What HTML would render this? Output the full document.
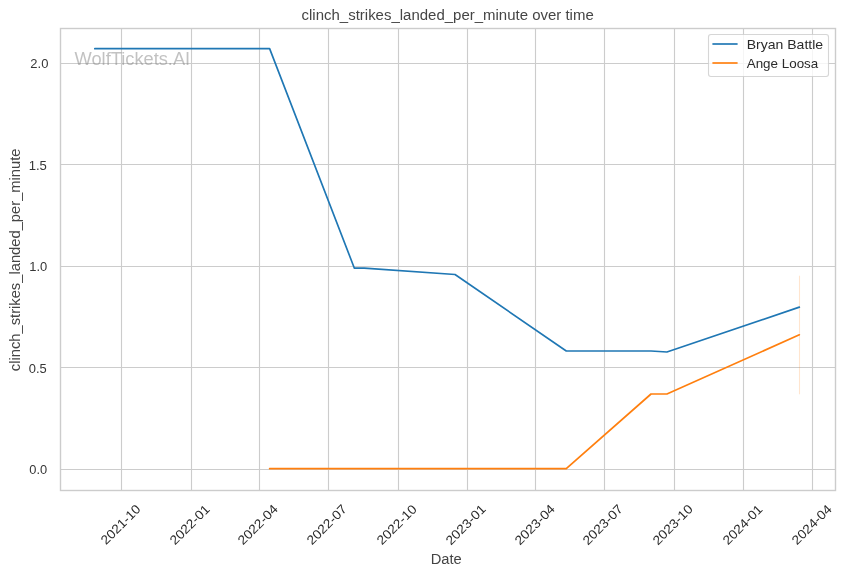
<!DOCTYPE html>
<html><head><meta charset="utf-8"><title>clinch_strikes_landed_per_minute over time</title>
<style>
html,body{margin:0;padding:0;background:#ffffff;}
body{width:844px;height:575px;overflow:hidden;}
svg{display:block;will-change:transform;}
text{font-family:"Liberation Sans", sans-serif;}
</style></head>
<body>
<svg width="844" height="575" viewBox="0 0 844 575">
<rect x="0" y="0" width="844" height="575" fill="#ffffff"/>
<path d="M121.5 28.5V490.5M191.5 28.5V490.5M259.5 28.5V490.5M328.5 28.5V490.5M398.5 28.5V490.5M467.5 28.5V490.5M535.5 28.5V490.5M604.5 28.5V490.5M674.5 28.5V490.5M743.5 28.5V490.5M812.5 28.5V490.5M60.5 63.5H835.5M60.5 164.5H835.5M60.5 266.5H835.5M60.5 367.5H835.5M60.5 469.5H835.5" stroke="#cccccc" stroke-width="1.11" fill="none"/>
<path d="M799.5 275.71V394.29" stroke="#ff7f0e" stroke-opacity="0.2" stroke-width="1.11" fill="none"/>
<polyline points="94.81,48.66 269.62,48.66 354.38,268.2 364.22,268.2 455.03,274.49 566.27,350.98 651.03,350.98 666.92,352 799.36,307.15" fill="none" stroke="#1f77b4" stroke-width="1.67" stroke-linejoin="round" stroke-linecap="round"/>
<polyline points="269.62,468.66 566.27,468.66 651.03,394 666.92,394 799.36,334.75" fill="none" stroke="#ff7f0e" stroke-width="1.67" stroke-linejoin="round" stroke-linecap="round"/>
<rect x="60.5" y="28.5" width="775" height="462" fill="none" stroke="#cccccc" stroke-width="1.39"/>
<text transform="translate(74.57 64.68)" font-size="17.5" textLength="115.61" lengthAdjust="spacingAndGlyphs" fill="#808080" fill-opacity="0.479">WolfTickets.AI</text>
<rect x="708.5" y="34.5" width="120" height="42" rx="2.44" ry="2.44" fill="#ffffff" fill-opacity="0.8" stroke="#cccccc" stroke-opacity="0.8" stroke-width="1.11"/>
<path d="M712.4 44H737.6" stroke="#1f77b4" stroke-opacity="0.835" stroke-width="2"/>
<path d="M712.4 63H737.6" stroke="#ff7f0e" stroke-opacity="0.835" stroke-width="2"/>
<text transform="translate(106.12 545.34) rotate(-45)" font-size="12.83" textLength="50.02" lengthAdjust="spacingAndGlyphs" fill="#2a2a2a">2021-10</text>
<text transform="translate(175.07 545.58) rotate(-45)" font-size="12.83" textLength="50.3" lengthAdjust="spacingAndGlyphs" fill="#2a2a2a">2022-01</text>
<text transform="translate(243.02 545.62) rotate(-45)" font-size="12.83" textLength="50.45" lengthAdjust="spacingAndGlyphs" fill="#2a2a2a">2022-04</text>
<text transform="translate(312.09 545.53) rotate(-45)" font-size="12.83" textLength="50.32" lengthAdjust="spacingAndGlyphs" fill="#2a2a2a">2022-07</text>
<text transform="translate(382.05 545.61) rotate(-45)" font-size="12.83" textLength="50.28" lengthAdjust="spacingAndGlyphs" fill="#2a2a2a">2022-10</text>
<text transform="translate(450.96 545.63) rotate(-45)" font-size="12.83" textLength="50.51" lengthAdjust="spacingAndGlyphs" fill="#2a2a2a">2023-01</text>
<text transform="translate(519.94 545.68) rotate(-45)" font-size="12.83" textLength="50.63" lengthAdjust="spacingAndGlyphs" fill="#2a2a2a">2023-04</text>
<text transform="translate(587.94 545.64) rotate(-45)" font-size="12.83" textLength="50.63" lengthAdjust="spacingAndGlyphs" fill="#2a2a2a">2023-07</text>
<text transform="translate(657.89 545.7) rotate(-45)" font-size="12.83" textLength="50.66" lengthAdjust="spacingAndGlyphs" fill="#2a2a2a">2023-10</text>
<text transform="translate(728.08 545.51) rotate(-45)" font-size="12.83" textLength="50.06" lengthAdjust="spacingAndGlyphs" fill="#2a2a2a">2024-01</text>
<text transform="translate(797.12 545.42) rotate(-45)" font-size="12.83" textLength="50.08" lengthAdjust="spacingAndGlyphs" fill="#2a2a2a">2024-04</text>
<text transform="translate(430.73 563.91)" font-size="14" textLength="31.06" lengthAdjust="spacingAndGlyphs" fill="#444444">Date</text>
<text transform="translate(29.27 473.95)" font-size="12.83" textLength="17.86" lengthAdjust="spacingAndGlyphs" fill="#363636">0.0</text>
<text transform="translate(28.73 373.04)" font-size="12.83" textLength="17.97" lengthAdjust="spacingAndGlyphs" fill="#363636">0.5</text>
<text transform="translate(29.3 270.85)" font-size="12.83" textLength="17.98" lengthAdjust="spacingAndGlyphs" fill="#363636">1.0</text>
<text transform="translate(28.68 170.02)" font-size="12.83" textLength="18.23" lengthAdjust="spacingAndGlyphs" fill="#363636">1.5</text>
<text transform="translate(30.37 67.63)" font-size="12.83" textLength="18.05" lengthAdjust="spacingAndGlyphs" fill="#363636">2.0</text>
<text transform="translate(20.29 371.17) rotate(-90)" font-size="14" textLength="222.71" lengthAdjust="spacingAndGlyphs" fill="#454545">clinch_strikes_landed_per_minute</text>
<text transform="translate(301.54 20.27)" font-size="14" textLength="292.22" lengthAdjust="spacingAndGlyphs" fill="#454545">clinch_strikes_landed_per_minute over time</text>
<text transform="translate(746.68 48.84)" font-size="12.83" textLength="76.44" lengthAdjust="spacingAndGlyphs" fill="#2b2b2b">Bryan Battle</text>
<text transform="translate(746.68 68.38)" font-size="12.83" textLength="71.61" lengthAdjust="spacingAndGlyphs" fill="#2b2b2b">Ange Loosa</text>
</svg>
</body></html>
